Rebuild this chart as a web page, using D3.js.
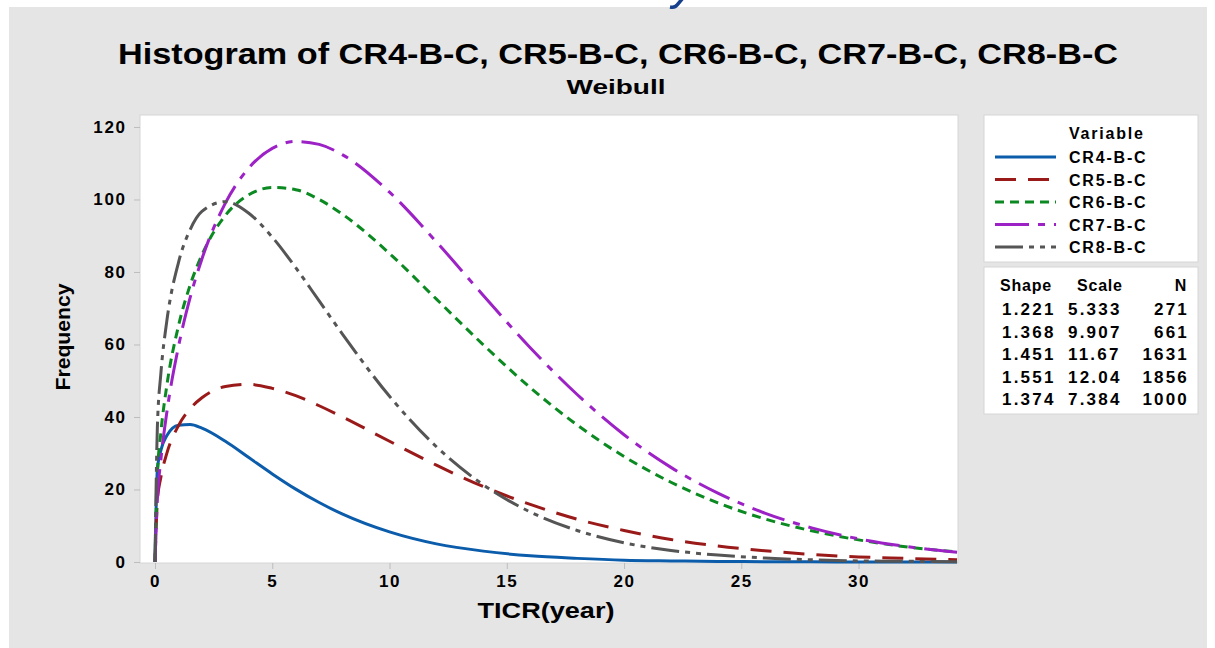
<!DOCTYPE html>
<html lang="en">
<head>
<meta charset="UTF-8">
<title>Histogram of CR4-B-C ... CR8-B-C</title>
<style>
    body { margin: 0; background: #fff; }
    svg text { font-family: "Liberation Sans", Arial, sans-serif; font-weight: bold; fill: #000; }
</style>
</head>
<body>
<script src="https://cdn.jsdelivr.net/npm/d3@7"></script>
<script>
    // fitted Weibull curves
    var xs   = [0, 0.1, 0.25, 0.5, 1, 1.5, 2, 3, 4, 5, 6, 7, 8, 10, 12, 14, 16, 18, 20, 22, 24, 26, 28, 30, 32, 34.2];
    var cr4  = [0, 25.5, 30.8, 34.8, 37.7, 37.9, 36.9, 33.3, 28.8, 24.3, 20.1, 16.4, 13.2, 8.3, 5.0, 3.0, 1.7, 1.0, 0.5, 0.3, 0.16, 0.09, 0.04, 0.02, 0.01, 0.0];
    var cr5  = [0, 16.8, 23.4, 29.9, 37.6, 42.3, 45.3, 48.4, 49.0, 47.9, 45.9, 43.1, 40.0, 33.3, 26.7, 20.8, 15.9, 11.8, 8.7, 6.2, 4.4, 3.1, 2.1, 1.4, 1.0, 0.6];
    var cr6  = [0, 23.7, 35.7, 48.5, 65.1, 76.4, 84.7, 95.6, 101.3, 103.3, 102.7, 100.0, 95.9, 85.1, 72.5, 59.9, 48.1, 37.8, 29.1, 22.0, 16.3, 11.9, 8.6, 6.1, 4.2, 2.8];
    var cr7  = [0, 17.1, 28.2, 41.1, 59.4, 73.0, 83.6, 99.0, 108.7, 114.1, 116.0, 115.2, 112.3, 102.0, 88.3, 73.5, 59.1, 46.2, 35.1, 26.1, 19.0, 13.5, 9.4, 6.4, 4.3, 2.7];
    var cr8  = [0, 37.1, 52.0, 66.3, 82.6, 91.7, 96.7, 99.4, 96.2, 89.6, 81.2, 72.0, 62.8, 45.7, 31.8, 21.3, 13.8, 8.7, 5.3, 3.2, 1.9, 1.1, 0.6, 0.3, 0.2, 0.1];

    var names  = ["CR4-B-C", "CR5-B-C", "CR6-B-C", "CR7-B-C", "CR8-B-C"];
    var shapes = ["1.221", "1.368", "1.451", "1.551", "1.374"];
    var scales = ["5.333", "9.907", "11.67", "12.04", "7.384"];
    var counts = ["271", "661", "1631", "1856", "1000"];
    var xTicks = [0, 5, 10, 15, 20, 25, 30];
    var yTicks = [0, 20, 40, 60, 80, 100, 120];

    var colors = ["#0b5cab", "#9a1a1a", "#0c8a22", "#9c22c6", "#555555"];
    var dashes = ["none", "21,12", "9,6", "34,9,7,9", "28,6,5,6,5,6"];
    var series = [cr4, cr5, cr6, cr7, cr8];

    var width = 1215, height = 648;
    var plot = { left: 140, right: 958, top: 115, bottom: 562 };

    var svg = d3.select("body").append("svg")
        .attr("width", width)
        .attr("height", height);

    // grey page panel
    svg.append("rect")
        .attr("x", 9).attr("y", 7)
        .attr("width", 1198).attr("height", 641)
        .attr("fill", "#e5e5e5");

    // tail of a cropped blue heading glyph at the very top edge
    svg.append("path")
        .attr("d", "M683,-2 L677,5 Q675,8 670,7")
        .attr("fill", "none")
        .attr("stroke", "#16408c")
        .attr("stroke-width", 3.5);

    var x = d3.scaleLinear().domain([-0.64, 34.24]).range([plot.left, plot.right]);
    var y = d3.scaleLinear().domain([0, 123.3]).range([plot.bottom, plot.top]);

    svg.append("rect")
        .attr("x", plot.left).attr("y", plot.top)
        .attr("width", plot.right - plot.left)
        .attr("height", plot.bottom - plot.top + 1)
        .attr("fill", "#fff")
        .attr("stroke", "#d6d6d6");

    // titles
    svg.append("text")
        .attr("x", 618).attr("y", 64)
        .attr("text-anchor", "middle")
        .attr("font-size", 29)
        .attr("textLength", 1000)
        .attr("lengthAdjust", "spacingAndGlyphs")
        .text("Histogram of CR4-B-C, CR5-B-C, CR6-B-C, CR7-B-C, CR8-B-C");
    svg.append("text")
        .attr("x", 616).attr("y", 94)
        .attr("text-anchor", "middle")
        .attr("font-size", 20)
        .attr("textLength", 99)
        .attr("lengthAdjust", "spacingAndGlyphs")
        .text("Weibull");

    // axes
    var xAxis = svg.append("g")
        .attr("transform", "translate(0," + (plot.bottom + 1) + ")")
        .call(d3.axisBottom(x).tickValues(xTicks).tickSize(6).tickPadding(6));
    var yAxis = svg.append("g")
        .attr("transform", "translate(" + plot.left + ",0)")
        .call(d3.axisLeft(y).tickValues(yTicks).tickSize(6).tickPadding(9));
    [xAxis, yAxis].forEach(function (g) {
        g.select(".domain").remove();
        g.selectAll(".tick line").attr("stroke", "#bdbdbd");
        g.selectAll(".tick text")
            .attr("font-size", 17)
            .style("letter-spacing", "1.6px")
            .style("font-family", "'Liberation Sans', Arial, sans-serif")
            .style("font-weight", "bold");
    });
    yAxis.selectAll(".tick text").attr("dx", 1.5);

    svg.append("text")
        .attr("x", 546).attr("y", 618)
        .attr("text-anchor", "middle")
        .attr("font-size", 22)
        .attr("textLength", 137)
        .attr("lengthAdjust", "spacingAndGlyphs")
        .text("TICR(year)");
    svg.append("text")
        .attr("transform", "translate(70,337) rotate(-90)")
        .attr("text-anchor", "middle")
        .attr("font-size", 20)
        .attr("textLength", 107)
        .attr("lengthAdjust", "spacingAndGlyphs")
        .text("Frequency");

    // curves
    svg.append("clipPath").attr("id", "clip")
        .append("rect")
        .attr("x", plot.left).attr("y", plot.top)
        .attr("width", plot.right - plot.left)
        .attr("height", plot.bottom - plot.top + 2);

    var line = d3.line()
        .x(function (d, i) { return x(xs[i]); })
        .y(function (d) { return y(d); })
        .curve(d3.curveMonotoneX);

    svg.append("g")
        .attr("clip-path", "url(#clip)")
        .selectAll("path")
        .data(series)
        .enter()
        .append("path")
        .attr("d", line)
        .attr("fill", "none")
        .attr("stroke", function (d, i) { return colors[i]; })
        .attr("stroke-width", 3)
        .attr("stroke-dasharray", function (d, i) { return dashes[i]; });

    // legend box
    var lg = svg.append("g");
    lg.append("rect")
        .attr("x", 984).attr("y", 115)
        .attr("width", 214).attr("height", 147)
        .attr("fill", "#fff").attr("stroke", "#d6d6d6");
    lg.append("text")
        .attr("x", 1069).attr("y", 139)
        .attr("font-size", 16)
        .style("letter-spacing", "1.8px")
        .text("Variable");
    var rowY = d3.scaleLinear().domain([0, 4]).range([157, 247]);
    names.forEach(function (n, i) {
        lg.append("line")
            .attr("x1", 995).attr("x2", 1056)
            .attr("y1", rowY(i)).attr("y2", rowY(i))
            .attr("stroke", colors[i])
            .attr("stroke-width", 3)
            .attr("stroke-dasharray", dashes[i]);
        lg.append("text")
            .attr("x", 1069).attr("y", rowY(i) + 6)
            .attr("font-size", 16)
            .style("letter-spacing", "1.8px")
            .text(n);
    });

    // parameter table
    var tb = svg.append("g");
    tb.append("rect")
        .attr("x", 984).attr("y", 267)
        .attr("width", 214).attr("height", 147)
        .attr("fill", "#fff").attr("stroke", "#d6d6d6");
    var head = [["Shape", 1000, "start"], ["Scale", 1077, "start"], ["N", 1187, "end"]];
    head.forEach(function (h) {
        tb.append("text")
            .attr("x", h[1]).attr("y", 291)
            .attr("text-anchor", h[2])
            .attr("font-size", 16)
            .style("letter-spacing", "0.8px")
            .text(h[0]);
    });
    var tRow = d3.scaleLinear().domain([0, 4]).range([315, 405]);
    shapes.forEach(function (s, i) {
        tb.append("text").attr("x", 1002).attr("y", tRow(i))
            .attr("font-size", 17).style("letter-spacing", "2.2px").text(s);
        tb.append("text").attr("x", 1068).attr("y", tRow(i))
            .attr("font-size", 17).style("letter-spacing", "2.2px").text(scales[i]);
        tb.append("text").attr("x", 1189).attr("y", tRow(i))
            .attr("text-anchor", "end")
            .attr("font-size", 17).style("letter-spacing", "2.2px").text(counts[i]);
    });
</script>
</body>
</html>
